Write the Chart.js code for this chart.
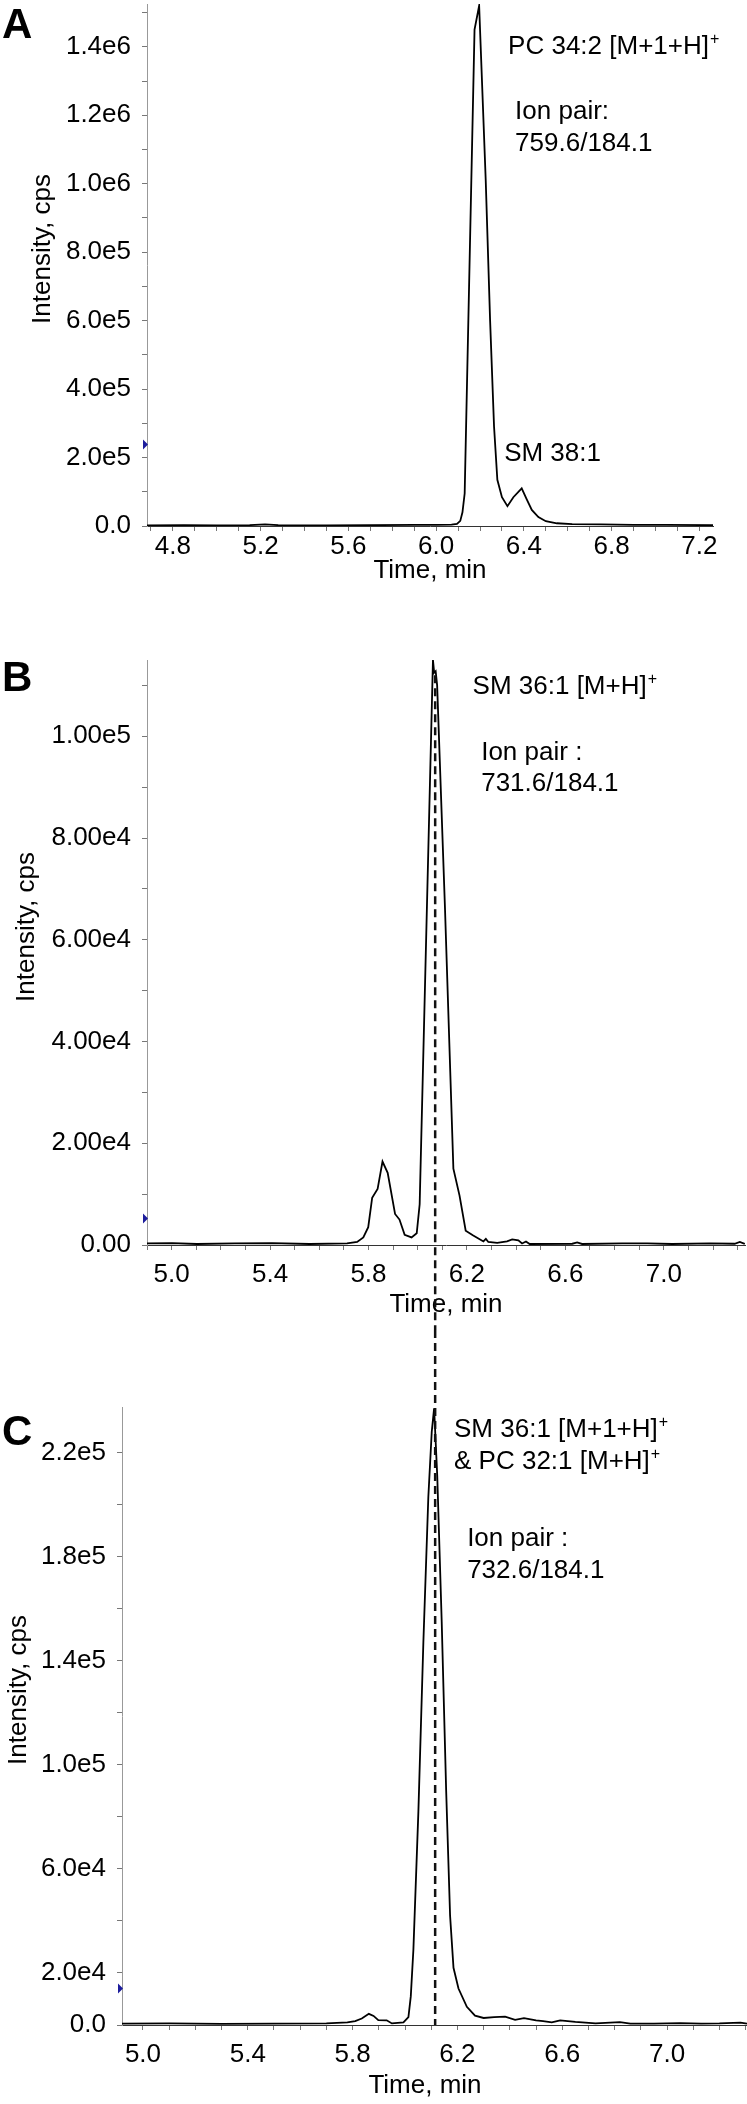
<!DOCTYPE html>
<html lang="en">
<head>
<meta charset="UTF-8">
<title>Cromatogramas SM / PC</title>
<script src="https://cdn.jsdelivr.net/npm/chart.js"></script>
<style>
  html, body { margin: 0; padding: 0; background: #fff; }
  #wrap { position: relative; width: 747px; height: 2104px; }
  canvas { position: absolute; left: 0; }
</style>
</head>
<body>
<div id="wrap">
  <canvas id="panelA" width="747" height="600" style="top:0px"></canvas>
  <canvas id="panelB" width="747" height="730" style="top:600px"></canvas>
  <canvas id="panelC" width="747" height="774" style="top:1330px"></canvas>
</div>
<script>
// ---- panel A : PC 34:2 [M+1+H]+ , 759.6/184.1
const timeA = [4.682, 4.85, 5.0, 5.15, 5.22, 5.28, 5.5, 5.7, 5.9, 6.0, 6.07, 6.095, 6.11, 6.12, 6.13,
  6.175, 6.196, 6.226, 6.246, 6.264, 6.279, 6.30, 6.325, 6.352, 6.39, 6.413, 6.436, 6.466, 6.50,
  6.55, 6.62, 6.75, 6.9, 7.05, 7.262];
const intensityA = [2000, 2500, 2000, 2500, 4500, 2500, 2000, 2500, 3000, 3500, 4000, 6000, 15000, 40000, 95000,
  1450000, 1520000, 1010000, 600000, 290000, 135000, 84000, 58000, 84000, 110000, 78000, 47000, 26000, 14000,
  8000, 5500, 4500, 3500, 3000, 2500];
const xMajorA = [4.8, 5.2, 5.6, 6.0, 6.4, 6.8, 7.2];
const xLabelsA = ['4.8', '5.2', '5.6', '6.0', '6.4', '6.8', '7.2'];
const yMajorA = [0, 2e5, 4e5, 6e5, 8e5, 1e6, 1.2e6, 1.4e6];
const yLabelsA = ['0.0', '2.0e5', '4.0e5', '6.0e5', '8.0e5', '1.0e6', '1.2e6', '1.4e6'];

// ---- panel B : SM 36:1 [M+H]+ , 731.6/184.1
const timeB = [4.90, 5.002, 5.103, 5.256, 5.408, 5.561, 5.713, 5.754, 5.779, 5.799, 5.815, 5.837, 5.857, 5.878, 5.908,
  5.926, 5.947, 5.975, 5.996, 6.008, 6.062, 6.067, 6.073, 6.079, 6.111, 6.145, 6.170, 6.195, 6.224, 6.257,
  6.267, 6.277, 6.287, 6.323, 6.363, 6.384, 6.409, 6.424, 6.440, 6.455, 6.628, 6.648, 6.668, 6.831, 6.933, 7.034,
  7.187, 7.288, 7.309, 7.329];
const intensityB = [300, 350, 200, 300, 350, 200, 300, 600, 1500, 3500, 9300, 11000, 16400, 14200, 6100,
  5000, 2000, 1500, 2300, 8000, 115000, 112500, 112800, 110000, 66000, 15000, 9700, 2800, 1900, 1000,
  700, 1200, 600, 400, 700, 1100, 900, 300, 700, 200, 250, 500, 200, 300, 300, 200,
  300, 250, 600, 200];
const xMajorB = [5.0, 5.4, 5.8, 6.2, 6.6, 7.0];
const xLabelsB = ['5.0', '5.4', '5.8', '6.2', '6.6', '7.0'];
const yMajorB = [0, 2e4, 4e4, 6e4, 8e4, 1e5];
const yLabelsB = ['0.00', '2.00e4', '4.00e4', '6.00e4', '8.00e4', '1.00e5'];

// ---- panel C : SM 36:1 [M+1+H]+ & PC 32:1 [M+H]+ , 732.6/184.1
const timeC = [4.92, 5.1, 5.3, 5.5, 5.7, 5.78, 5.81, 5.835, 5.862, 5.88, 5.898, 5.93, 5.95, 5.994, 6.013,
  6.022, 6.032, 6.051, 6.070, 6.089, 6.102, 6.111, 6.123, 6.140, 6.157, 6.172, 6.185, 6.204, 6.236,
  6.267, 6.30, 6.34, 6.382, 6.42, 6.454, 6.5, 6.527, 6.56, 6.592, 6.65, 6.727, 6.82, 6.86, 6.95,
  7.05, 7.13, 7.2, 7.28, 7.305];
const intensityC = [500, 600, 400, 500, 600, 1000, 1500, 2500, 4300, 3500, 1900, 1800, 600, 1000, 3000,
  11000, 29000, 82000, 147000, 203000, 228000, 237000, 211000, 155000, 90000, 42000, 22000, 14000, 7000,
  3600, 2700, 3000, 3200, 2000, 2600, 1800, 1500, 1000, 1800, 1200, 600, 1100, 500, 500,
  700, 500, 600, 900, 500];
const xMajorC = [5.0, 5.4, 5.8, 6.2, 6.6, 7.0];
const xLabelsC = ['5.0', '5.4', '5.8', '6.2', '6.6', '7.0'];
const yMajorC = [0, 2e4, 6e4, 1e5, 1.4e5, 1.8e5, 2.2e5];
const yLabelsC = ['0.0', '2.0e4', '6.0e4', '1.0e5', '1.4e5', '1.8e5', '2.2e5'];

// retention time marked by the dashed line in B and C
const dashTimeB = 6.071;
const dashTimeC = 6.115;

const FONT = "'Liberation Sans', Arial, Helvetica, sans-serif";
Chart.defaults.font.family = FONT;
Chart.defaults.color = '#000';

// small helper: tick list on a regular step (minor + major)
function stepTicks(from, to, step) {
  const out = [];
  for (let v = from; v <= to + step * 1e-6; v += step) out.push(Math.round(v / step) * step);
  return out;
}

function labelFor(majors, labels) {
  return function (value) {
    const i = majors.findIndex(m => Math.abs(m - value) < 1e-6 * Math.max(1, Math.abs(m)));
    return i >= 0 ? labels[i] : '';
  };
}

// draws letters, axis titles, notes, blue marker and dashed line
const extras = {
  id: 'extras',
  afterDraw(chart, args, o) {
    const { ctx, chartArea: ca, scales: { x, y } } = chart;
    ctx.save();
    ctx.fillStyle = '#000';

    ctx.font = 'bold 42px ' + FONT;
    ctx.textAlign = 'left';
    ctx.textBaseline = 'alphabetic';
    ctx.fillText(o.letter, o.letterPos[0], o.letterPos[1]);

    ctx.font = '26px ' + FONT;
    ctx.textAlign = 'center';
    ctx.textBaseline = 'middle';
    ctx.fillText('Time, min', o.xTitlePos[0], o.xTitlePos[1]);
    ctx.save();
    ctx.translate(o.yTitlePos[0], o.yTitlePos[1]);
    ctx.rotate(-Math.PI / 2);
    ctx.fillText('Intensity, cps', 0, 0);
    ctx.restore();

    ctx.textAlign = 'left';
    ctx.textBaseline = 'alphabetic';
    o.notes.forEach(n => {
      const px = x.getPixelForValue(n.t), py = y.getPixelForValue(n.v);
      ctx.font = '26px ' + FONT;
      ctx.fillText(n.text, px, py);
      if (n.sup) {
        const w = ctx.measureText(n.text).width;
        ctx.font = '16px ' + FONT;
        ctx.fillText(n.sup, px + w + 1, py - 10);
      }
    });

    // blue threshold marker on the y axis
    const my = y.getPixelForValue(o.marker);
    ctx.fillStyle = '#1c1c9c';
    ctx.beginPath();
    ctx.moveTo(ca.left - 4, my - 5);
    ctx.lineTo(ca.left - 4, my + 5);
    ctx.lineTo(ca.left + 1, my);
    ctx.closePath();
    ctx.fill();

    if (o.dash) {
      const dx = x.getPixelForValue(o.dash.t);
      const y0 = o.dash.from === 'top' ? 0 : y.getPixelForValue(o.dash.from);
      const y1 = o.dash.to === 'bottom' ? chart.height : y.getPixelForValue(o.dash.to);
      ctx.strokeStyle = '#111';
      ctx.lineWidth = 2.5;
      ctx.setLineDash([8, 5]);
      ctx.beginPath();
      ctx.moveTo(dx, y0);
      ctx.lineTo(dx, y1);
      ctx.stroke();
    }
    ctx.restore();
  }
};

function makePanel(id, p) {
  const cv = document.getElementById(id);
  const W = cv.width, H = cv.height;
  return new Chart(cv, {
    type: 'line',
    data: {
      datasets: [{
        data: p.time.map((t, i) => ({ x: t, y: p.intensity[i] })),
        borderColor: '#000',
        borderWidth: 1.8,
        pointRadius: 0,
        fill: false,
        tension: 0
      }]
    },
    options: {
      responsive: false,
      animation: false,
      layout: { padding: { left: 0, top: p.area.top, right: W - p.area.right, bottom: 0 } },
      plugins: { legend: { display: false }, tooltip: { enabled: false }, extras: p.extras },
      scales: {
        x: {
          type: 'linear',
          min: p.xMin, max: p.xMax,
          border: { display: true, color: '#333', width: 1 },
          grid: { drawOnChartArea: false, drawTicks: true, tickLength: 5, tickColor: '#777' },
          ticks: {
            autoSkip: false, maxRotation: 0, padding: p.xPad,
            font: { size: 26 }, color: '#000',
            callback: labelFor(p.xMajor, p.xLabels)
          },
          afterBuildTicks: s => { s.ticks = stepTicks(p.xMinorFrom, p.xMax, 0.1).map(v => ({ value: v })); },
          afterFit: s => {
            s.height = H - p.area.bottom;
            s.paddingLeft = 0; s.paddingRight = 0;
          }
        },
        y: {
          type: 'linear',
          min: 0, max: p.yMax,
          border: { display: true, color: '#999', width: 1 },
          grid: { drawOnChartArea: false, drawTicks: true, tickLength: 5, tickColor: '#777' },
          ticks: {
            autoSkip: false, padding: 11,
            font: { size: 26 }, color: '#000',
            callback: labelFor(p.yMajor, p.yLabels)
          },
          afterBuildTicks: s => { s.ticks = stepTicks(0, p.yMax, p.yMinorStep).map(v => ({ value: v })); },
          afterFit: s => {
            s.width = p.area.left;
            s.paddingTop = 0; s.paddingBottom = 0;
          }
        }
      }
    },
    plugins: [extras]
  });
}

makePanel('panelA', {
  time: timeA, intensity: intensityA,
  xMin: 4.682, xMax: 7.262, xMinorFrom: 4.7, xMajor: xMajorA, xLabels: xLabelsA, xPad: 0,
  yMax: 1.525e6, yMinorStep: 1e5, yMajor: yMajorA, yLabels: yLabelsA,
  area: { left: 147, right: 713, top: 4, bottom: 526 },
  extras: {
    letter: 'A', letterPos: [2, 38],
    xTitlePos: [430, 571], yTitlePos: [43, 249],
    marker: 2.38e5,
    notes: [
      { text: 'PC 34:2 [M+1+H]', sup: '+', t: 6.328, v: 1.380e6 },
      { text: 'Ion pair:', t: 6.36, v: 1.190e6 },
      { text: '759.6/184.1', t: 6.36, v: 1.096e6 },
      { text: 'SM 38:1', t: 6.31, v: 1.9e5 }
    ]
  }
});

makePanel('panelB', {
  time: timeB, intensity: intensityB,
  xMin: 4.9, xMax: 7.33, xMinorFrom: 4.9, xMajor: xMajorB, xLabels: xLabelsB, xPad: 9,
  yMax: 1.15e5, yMinorStep: 1e4, yMajor: yMajorB, yLabels: yLabelsB,
  area: { left: 147, right: 745, top: 60, bottom: 645 },
  extras: {
    letter: 'B', letterPos: [2, 91],
    xTitlePos: [446, 705], yTitlePos: [27, 327],
    marker: 5.2e3,
    dash: { t: dashTimeB, from: 1.12e5, to: 'bottom' },
    notes: [
      { text: 'SM 36:1 [M+H]', sup: '+', t: 6.223, v: 1.084e5 },
      { text: 'Ion pair :', t: 6.258, v: 0.953e5 },
      { text: '731.6/184.1', t: 6.258, v: 0.892e5 }
    ]
  }
});

makePanel('panelC', {
  time: timeC, intensity: intensityC,
  xMin: 4.92, xMax: 7.305, xMinorFrom: 5.0, xMajor: xMajorC, xLabels: xLabelsC, xPad: 9,
  yMax: 2.375e5, yMinorStep: 2e4, yMajor: yMajorC, yLabels: yLabelsC,
  area: { left: 122, right: 747, top: 77, bottom: 695 },
  extras: {
    letter: 'C', letterPos: [2, 115],
    xTitlePos: [425, 756], yTitlePos: [19, 360],
    marker: 1.4e4,
    dash: { t: dashTimeC, from: 'top', to: 0 },
    notes: [
      { text: 'SM 36:1 [M+1+H]', sup: '+', t: 6.187, v: 2.26e5 },
      { text: '& PC 32:1 [M+H]', sup: '+', t: 6.187, v: 2.137e5 },
      { text: 'Ion pair :', t: 6.237, v: 1.841e5 },
      { text: '732.6/184.1', t: 6.237, v: 1.718e5 }
    ]
  }
});
</script>
</body>
</html>
